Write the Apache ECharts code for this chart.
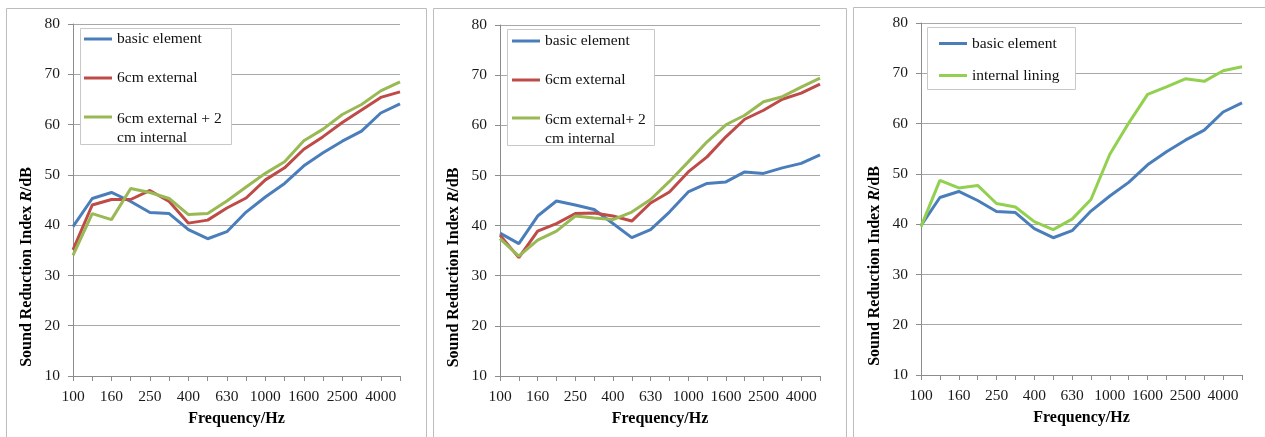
<!DOCTYPE html>
<html>
<head>
<meta charset="utf-8">
<script src="https://cdn.jsdelivr.net/npm/echarts@6/dist/echarts.min.js"></script>
<style>
  html, body { margin: 0; padding: 0; background: #fff; }
  #chart { width: 1265px; height: 437px; }
</style>
</head>
<body>
<div id="chart"></div>
<script>
// Third-octave band centre frequencies (Hz)
const frequencies = ['100', '125', '160', '200', '250', '315', '400', '500', '630',
  '800', '1000', '1250', '1600', '2000', '2500', '3150', '4000', '5000'];

// Left panel: wall with external insulation
const basicElementA = [39.7, 45.3, 46.5, 44.7, 42.5, 42.3, 39.1, 37.3, 38.7, 42.6, 45.6, 48.3, 51.8, 54.4, 56.7, 58.7, 62.3, 64.1];
const external6cmA = [35.1, 44.0, 45.1, 45.1, 46.9, 44.7, 40.4, 41.0, 43.4, 45.4, 49.0, 51.4, 55.1, 57.6, 60.4, 62.9, 65.4, 66.5];
const externalInternalA = [34.0, 42.3, 41.1, 47.3, 46.5, 45.3, 42.1, 42.3, 44.8, 47.6, 50.3, 52.6, 56.8, 59.1, 62.0, 64.0, 66.7, 68.5];

// Middle panel
const basicElementB = [38.5, 36.4, 41.9, 44.9, 44.1, 43.2, 40.4, 37.6, 39.2, 42.7, 46.7, 48.4, 48.7, 50.7, 50.4, 51.5, 52.4, 54.1];
const external6cmB = [38.1, 33.6, 38.9, 40.4, 42.4, 42.5, 41.9, 40.9, 44.5, 46.7, 50.7, 53.7, 57.7, 61.2, 63.0, 65.2, 66.4, 68.2];
const externalInternalB = [37.4, 33.9, 37.1, 38.9, 41.9, 41.5, 41.2, 42.7, 45.2, 48.8, 52.7, 56.7, 60.1, 62.0, 64.7, 65.7, 67.6, 69.4];

// Right panel: internal lining only
const basicElementC = basicElementA;
const internalLiningC = [39.5, 48.7, 47.2, 47.7, 44.1, 43.4, 40.5, 38.9, 41.0, 44.9, 53.9, 60.1, 65.8, 67.3, 68.9, 68.4, 70.5, 71.3];

const yTicks = { min: 10, max: 80, step: 10 };

const NAME_BASIC = 'basic element';
const NAME_EXT = '6cm external';
const NAME_EXT_INT_A = '6cm external + 2 cm internal';
const NAME_EXT_INT_B = '6cm external+ 2 cm internal';
const NAME_LINING = 'internal lining';

const BLUE = '#4a7ebb', RED = '#be4b48', GREEN = '#98b954', LIME = '#92d050';
const SERIF = '"Liberation Serif", "Times New Roman", serif';
const AXIS_GRAY = '#8c8c8c', GRID_GRAY = '#a8a8a8', FRAME_GRAY = '#bdbdbd';

// plot areas for the three panels
const grids = [
  { left: 73, top: 24, width: 327, height: 352 },
  { left: 500, top: 25, width: 320, height: 351 },
  { left: 921, top: 23, width: 321, height: 352 }
];

function xAxisFor(i) {
  return {
    type: 'category', gridIndex: i, data: frequencies, boundaryGap: false,
    axisLine: { lineStyle: { color: AXIS_GRAY, width: 1 } },
    axisTick: { show: true, interval: 0, length: 5, lineStyle: { color: AXIS_GRAY } },
    axisLabel: { interval: 1, margin: 13, fontFamily: SERIF, fontSize: 15.5, color: '#1a1a1a' },
    name: 'Frequency/Hz', nameLocation: 'middle', nameGap: 35,
    nameTextStyle: { fontFamily: SERIF, fontSize: 16, fontWeight: 'bold', color: '#000' },
    splitLine: { show: false }
  };
}

function yAxisFor(i) {
  return {
    type: 'value', gridIndex: i, min: yTicks.min, max: yTicks.max, interval: yTicks.step,
    axisLine: { show: true, lineStyle: { color: AXIS_GRAY, width: 1 } },
    axisTick: { show: true, length: 5, lineStyle: { color: AXIS_GRAY } },
    axisLabel: { margin: 13, fontFamily: SERIF, fontSize: 15.5, color: '#1a1a1a' },
    splitLine: { show: true, lineStyle: { color: GRID_GRAY, width: 1 } },
    name: 'Sound Reduction Index {i|R}/dB', nameLocation: 'middle', nameGap: 38,
    nameTextStyle: {
      fontFamily: SERIF, fontSize: 16, fontWeight: 'bold', color: '#000',
      padding: [0, 134, 0, 0],
      rich: { i: { fontFamily: SERIF, fontSize: 16, fontWeight: 'bold', fontStyle: 'italic', color: '#000' } }
    }
  };
}

function line(name, data, color, i) {
  return {
    type: 'line', name, data, xAxisIndex: i, yAxisIndex: i,
    showSymbol: false, symbol: 'none', smooth: false,
    lineStyle: { color, width: 3 }, itemStyle: { color },
    emphasis: { disabled: true }, z: 3
  };
}

const legendText = { fontFamily: SERIF, fontSize: 15.5, color: '#111', lineHeight: 19 };

function legend(left, top, gap, names) {
  return {
    orient: 'vertical', left, top, padding: 0, itemGap: gap,
    itemWidth: 28, itemHeight: 3, icon: 'rect',
    selectedMode: false, textStyle: legendText,
    data: names
  };
}

// Two-line legend entry: the icon lines up with the first line of text.
// A taller first line (38) with its text pinned to the bottom keeps the
// first line centred on the icon and the second line 19px below it.
function wrappedLegend(left, top, name, breakAt) {
  const first = name.slice(0, breakAt).trim();
  const second = name.slice(breakAt).trim();
  const rowStyle = { fontFamily: SERIF, fontSize: 15.5, color: '#111', lineHeight: 19, verticalAlign: 'bottom' };
  return Object.assign(legend(left, top, 0, [name]), {
    formatter: () => '{s|}{a|' + first + '}\n{a|' + second + '}',
    textStyle: Object.assign({}, legendText, {
      rich: { s: { height: 38, lineHeight: 38, width: 0 }, a: rowStyle }
    })
  });
}

function frame(x, y, w, h) {
  return { type: 'rect', shape: { x: x + 0.5, y: y + 0.5, width: w, height: h },
    style: { fill: 'none', stroke: FRAME_GRAY, lineWidth: 1 }, silent: true, z: 0 };
}
function legendBox(x, y, w, h) {
  return { type: 'rect', shape: { x: x + 0.5, y: y + 0.5, width: w, height: h },
    style: { fill: '#fff', stroke: '#c8c8c8', lineWidth: 1 }, silent: true, z: 4 };
}

const option = {
  animation: false,
  backgroundColor: '#fff',
  grid: grids.map(g => Object.assign({ containLabel: false, show: false }, g)),
  xAxis: [0, 1, 2].map(xAxisFor),
  yAxis: [0, 1, 2].map(yAxisFor),
  series: [
    line(NAME_BASIC, basicElementA, BLUE, 0),
    line(NAME_EXT, external6cmA, RED, 0),
    line(NAME_EXT_INT_A, externalInternalA, GREEN, 0),
    line(NAME_BASIC, basicElementB, BLUE, 1),
    line(NAME_EXT, external6cmB, RED, 1),
    line(NAME_EXT_INT_B, externalInternalB, GREEN, 1),
    line(NAME_BASIC, basicElementC, BLUE, 2),
    line(NAME_LINING, internalLiningC, LIME, 2)
  ],
  legend: [
    legend(84, 29.5, 20, [NAME_BASIC, NAME_EXT]),
    wrappedLegend(84, 88.5, NAME_EXT_INT_A, 16),
    legend(512, 31.5, 20, [NAME_BASIC, NAME_EXT]),
    wrappedLegend(512, 89.5, NAME_EXT_INT_B, 15),
    legend(939, 34, 13, [NAME_BASIC, NAME_LINING])
  ],
  graphic: [
    frame(6, 8, 420, 440),
    frame(433, 8, 413, 440),
    frame(853, 7, 420, 440),
    legendBox(80, 28, 151, 116),
    legendBox(507, 29, 147, 116),
    legendBox(927, 27, 148, 62)
  ]
};

const chart = echarts.init(document.getElementById('chart'), null, { renderer: 'canvas' });
chart.setOption(option);
</script>
</body>
</html>
